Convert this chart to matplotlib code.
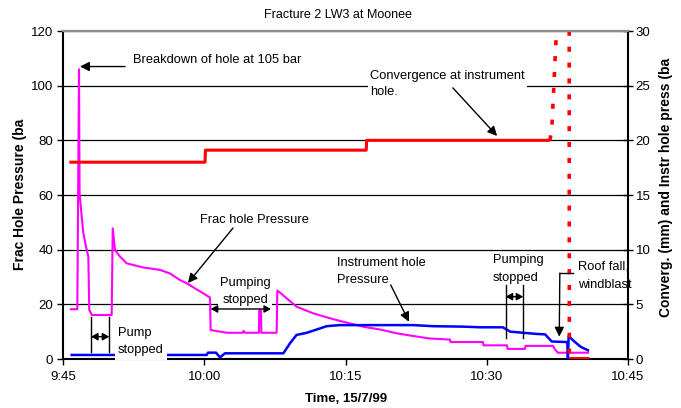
import matplotlib
matplotlib.use("Agg")
import matplotlib.pyplot as plt
from matplotlib.transforms import Bbox, TransformedBbox

plt.rcParams['font.family'] = ['Liberation Sans', 'DejaVu Sans']

# ---------------- data (time in minutes after 9:45) ----------------
frac_t = [0.85, 1.52, 1.70, 1.76, 1.99, 2.16, 2.39, 2.69, 2.79, 3.05, 5.17, 5.28,
          5.52, 6.05, 6.76, 8.50, 10.30, 11.36, 12.42, 13.14, 14.90, 15.61, 15.68,
          17.38, 19.11, 19.17, 19.33, 20.81, 20.84, 21.03, 21.06, 22.69, 22.76,
          23.04, 24.82, 26.58, 28.35, 30.13, 31.89, 33.66, 35.44, 37.20, 38.97,
          41.10, 41.15, 44.60, 44.65, 47.15, 47.20, 49.06, 49.11, 52.03, 52.25,
          52.56, 55.75]
frac_p = [18.2, 18.2, 106.0, 60.7, 52.0, 46.0, 42.0, 37.4, 18.0, 16.1, 16.1, 47.8,
          39.9, 37.5, 35.0, 33.5, 32.6, 31.3, 28.9, 27.7, 24.0, 22.5, 10.6,
          9.6, 9.6, 10.3, 9.6, 9.6, 17.9, 17.9, 9.6, 9.6, 25.0,
          24.3, 19.1, 16.7, 14.9, 13.3, 11.8, 10.8, 9.4, 8.4, 7.5,
          7.1, 6.2, 6.2, 5.0, 5.0, 3.7, 3.7, 4.8, 4.8, 3.5,
          2.3, 2.3]

instr_t = [0.92, 15.26, 15.40, 16.25, 16.67, 17.20, 23.40, 24.10, 24.80, 25.90,
           27.30, 28.00, 29.40, 37.20, 39.30, 42.50, 44.30, 46.70, 47.50, 50.20,
           51.20, 51.90, 53.55, 53.62, 53.70, 54.30, 55.00, 55.75]
instr_p = [0.37, 0.37, 0.58, 0.58, 0.15, 0.52, 0.52, 1.43, 2.2, 2.4,
           2.8, 3.0, 3.1, 3.1, 3.0, 2.96, 2.9, 2.9, 2.5, 2.3,
           2.25, 1.6, 1.55, 0.0, 2.1, 1.6, 1.1, 0.8]

conv_t = [0.67, 15.08, 15.13, 32.20, 32.25, 51.70]
conv_v = [18.0, 18.0, 19.1, 19.1, 20.0, 20.0]
conv_dash_t = [51.70, 51.90, 52.10, 52.40, 52.50, 53.75, 53.77]
conv_dash_v = [20.0, 20.9, 24.5, 30.0, 32.0, 40.0, 0.1]
conv_end_t = [53.77, 55.86]
conv_end_v = [0.1, 0.1]

x_ticks = [0, 15, 30, 45, 60]
x_tick_labels = ["9:45", "10:00", "10:15", "10:30", "10:45"]
left_ticks = [0, 20, 40, 60, 80, 100, 120]
right_ticks = [0, 5, 10, 15, 20, 25, 30]

title = "Fracture 2 LW3 at Moonee"
xlabel = "Time, 15/7/99"
ylabel_left = "Frac Hole Pressure (ba"
ylabel_right = "Converg. (mm) and Instr hole press (ba"

# ---------------- figure ----------------
W, H = 681, 408
fig = plt.figure(figsize=(W / 100, H / 100), dpi=100)
ax = fig.add_axes([63 / W, 1 - 359 / H, 565 / W, 328 / H])
ax2 = ax.twinx()

ax.set_xlim(0, 60)
ax.set_ylim(0, 120)
ax2.set_ylim(0, 30)

ax.set_xticks(x_ticks)
ax.set_xticklabels(x_tick_labels)
ax.set_yticks(left_ticks)
ax2.set_yticks(right_ticks)

ax.yaxis.grid(True, color='black', lw=0.9)
ax.set_axisbelow(True)

for a in (ax, ax2):
    for s in a.spines.values():
        s.set_linewidth(1.5)
        s.set_color('black')
    a.spines['top'].set_color('#8c8c8c')
ax.spines['right'].set_visible(False)
ax2.spines['left'].set_visible(False)
ax2.spines['bottom'].set_visible(False)

ax.tick_params(axis='y', direction='out', length=4, width=1, pad=3, labelsize=9.5)
ax.tick_params(axis='x', direction='out', length=4, width=1, pad=5, labelsize=9.5)
ax2.tick_params(axis='y', direction='inout', length=7, width=1, pad=2, labelsize=9.5)

# series
ax.plot(frac_t, frac_p, color='#FF00FF', lw=1.5)
ax2.plot(instr_t, instr_p, color='#0000FF', lw=1.8)
ax2.plot(conv_t, conv_v, color='#FF0000', lw=2.2, solid_capstyle='butt')
ax2.plot(conv_dash_t, conv_dash_v, color='#FF0000', lw=2.6,
         linestyle=(0, (1.4, 3.0)), dash_capstyle='butt')
ax2.plot(conv_end_t, conv_end_v, color='#FF0000', lw=2.2, solid_capstyle='butt')

# ---------------- text ----------------
fig.text(338 / W, 1 - 15 / H, title, ha='center', va='center', fontsize=9)
fig.text(346 / W, 1 - 399 / H, xlabel, ha='center', va='center',
         fontsize=9.5, fontweight='bold')
fig.text(20 / W, 1 - 194 / H, ylabel_left, rotation=90, ha='center', va='center',
         fontsize=10, fontweight='bold')
tr = fig.text(666 / W, 1 - 317 / H, ylabel_right, rotation=90, ha='center',
              va='bottom', fontsize=10, fontweight='bold')
tr.set_clip_box(TransformedBbox(Bbox.from_extents(0, 0, 1, 1 - 56 / H), fig.transFigure))
tr.set_clip_on(True)

FS = 9.3
LS = 1.65
T = ax.transData
head = dict(arrowstyle='-|>,head_length=0.4,head_width=0.2', mutation_scale=14,
            color='black', lw=1, shrinkA=0, shrinkB=0)
dbl = dict(arrowstyle='<|-|>,head_length=0.4,head_width=0.22', mutation_scale=10,
           color='black', lw=1, shrinkA=0, shrinkB=0)
white = dict(facecolor='white', edgecolor='none', pad=1.5)

# breakdown
ax2.annotate('', xy=(1.8, 107), xytext=(6.58, 107), xycoords=T, textcoords=T, arrowprops=head)
ax2.text(7.43, 109.4, 'Breakdown of hole at 105 bar', transform=T, ha='left',
         va='center', fontsize=FS)

# convergence
ax2.text(32.6, 100.6, 'Convergence at instrument\nhole.', transform=T, ha='left',
         va='center', fontsize=FS, linespacing=LS * 0.85, bbox=white)
ax2.annotate('', xy=(46.1, 81.6), xytext=(41.4, 99.2), xycoords=T, textcoords=T, arrowprops=head)

# frac hole pressure
ax2.text(14.55, 50.9, 'Frac hole Pressure', transform=T, ha='left', va='center', fontsize=FS)
ax2.annotate('', xy=(13.27, 27.8), xytext=(18.05, 47.9), xycoords=T, textcoords=T, arrowprops=head)

# pump stopped
ax2.text(5.84, 6.4, 'Pump\nstopped', transform=T, ha='left', va='center',
         fontsize=FS, linespacing=LS, bbox=dict(facecolor='white', edgecolor='none', pad=2.2))
for xv in (2.97, 4.92):
    ax2.plot([xv, xv], [15.5 / 4, 2.67 / 4], color='black', lw=1)
ax2.annotate('', xy=(2.97, 8.16), xytext=(4.92, 8.16), xycoords=T, textcoords=T, arrowprops=dbl)

# pumping stopped 1
ax2.text(19.33, 24.7, 'Pumping\nstopped', transform=T, ha='center', va='center',
         fontsize=FS, linespacing=LS, multialignment='center', bbox=white)
ax2.annotate('', xy=(15.68, 18.3), xytext=(22.09, 18.3), xycoords=T, textcoords=T, arrowprops=dbl)

# instrument hole pressure
ax2.text(29.1, 32.0, 'Instrument hole\nPressure', transform=T, ha='left', va='center',
         fontsize=FS, linespacing=LS)
ax2.annotate('', xy=(36.74, 13.65), xytext=(34.8, 27.1), xycoords=T, textcoords=T, arrowprops=head)

# pumping stopped 2
ax2.text(45.66, 32.9, 'Pumping\nstopped', transform=T, ha='left', va='center',
         fontsize=FS, linespacing=LS)
for xv in (47.0, 48.88):
    ax2.plot([xv, xv], [27.1 / 4, 7.7 / 4], color='black', lw=1)
ax2.annotate('', xy=(47.0, 22.8), xytext=(48.88, 22.8), xycoords=T, textcoords=T, arrowprops=dbl)

# roof fall
ax2.text(54.69, 30.5, 'Roof fall,\nwindblast', transform=T, ha='left', va='center',
         fontsize=FS, linespacing=LS)
ax2.plot([54.19, 52.76], [31.4 / 4, 31.4 / 4], color='black', lw=1)
ax2.annotate('', xy=(52.70, 8.16), xytext=(52.76, 31.4), xycoords=T, textcoords=T, arrowprops=head)

fig.savefig('out.png', dpi=100)
